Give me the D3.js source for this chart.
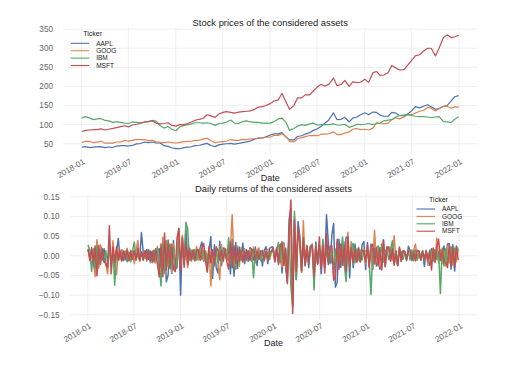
<!DOCTYPE html>
<html>
<head>
<meta charset="utf-8">
<script src="https://cdn.jsdelivr.net/npm/d3@7"></script>
<style>
  body { margin: 0; background: #fff; }
  svg { font-family: 'Liberation Sans', Arial, sans-serif; }
</style>
</head>
<body>
<div id="chart"></div>
<script>
(function() {

  const tickers = ['AAPL', 'GOOG', 'IBM', 'MSFT'];
  const tickerColors = ['#4c72b0', '#dd8452', '#55a868', '#c44e52'];

  // prices, sampled on the 2nd and 16th of each month (2018-01 .. 2021-12) + last day
  const aaplPrice = [
    41, 42.5, 40, 41, 42, 42.5, 40, 41.5, 40, 44, 45, 45, 44, 45.5, 49.5, 50.5, 54.5, 53, 54.5, 52, 52, 45, 43, 39.5,
    37, 37, 40, 41, 42, 45, 46, 48.5, 51, 45.5, 42.5, 47, 49, 50, 51, 49, 51, 53, 55, 57, 62, 64.5, 65.5, 68,
    73, 76, 76, 79, 68, 60, 60, 69, 71, 75, 79, 85, 89, 95, 105, 113, 131, 113, 114, 119, 107, 117, 120, 126,
    131, 126, 133, 132, 125, 122, 122, 132, 130, 124, 123, 128, 136, 147, 144, 148, 152, 147, 140, 142, 148, 150, 162, 173, 176
  ];
  const googPrice = [
    53.5, 56.5, 56, 53, 54, 57, 51.5, 52, 51.5, 54.5, 55, 58.5, 57, 59, 61.5, 61, 61, 58, 59, 55, 53.5, 53, 54.5, 53,
    52, 53.5, 55.5, 56, 56.5, 59, 59, 62, 64.5, 58.5, 53, 54.5, 55.5, 56.5, 61, 59, 59, 61.5, 61, 62.5, 63, 65, 65, 67,
    67, 72, 72, 76, 69, 57, 55, 63, 66, 68.5, 71.5, 72, 71, 75, 75, 76, 81, 74, 74, 78, 81, 88, 90, 87,
    88, 86, 91, 105, 103, 102, 104, 113, 118, 115, 120, 126, 126, 130, 135, 137, 145, 143, 136, 142, 148, 148, 143, 147, 145
  ];
  const ibmPrice = [
    117, 121, 117, 113, 115, 116, 111, 110, 106, 108, 106, 104, 103, 107, 106, 105, 107, 108, 111, 109, 97, 91, 95, 88,
    84, 94, 98, 100, 102, 105, 105, 104, 105, 103, 98, 103, 104, 107, 112, 104, 103, 108, 110, 107, 106, 106, 104, 104,
    104, 108, 115, 117, 106, 85, 90, 96, 100, 98, 102, 104, 99, 100, 100, 100, 102, 99, 99, 101, 93, 96, 101, 100,
    101, 103, 100, 103, 104, 110, 112, 113, 120, 124, 125, 126, 124, 122, 121, 121, 120, 118, 120, 121, 108, 107, 106, 114, 121
  ];
  const msftPrice = [
    82, 85, 86, 87, 87, 89, 86, 88, 90, 92, 95, 97, 94, 99, 101, 103, 107, 108, 110, 104, 102, 103, 105, 98,
    96, 100, 100, 103, 107, 111, 114, 116, 126, 123, 119, 128, 132, 134, 132, 130, 133, 134, 135, 136, 140, 146, 147, 150,
    155, 162, 165, 182, 160, 140, 150, 170, 170, 178, 178, 188, 199, 205, 201, 206, 222, 202, 205, 216, 200, 212, 210, 211,
    219, 210, 236, 239, 229, 230, 236, 255, 248, 243, 244, 255, 268, 280, 283, 292, 300, 300, 280, 300, 328, 335, 328, 330, 334
  ];

  // daily returns, one reading per week from 2018-01-02
  const aaplReturn = [
    .017, -.005, .012, -.021, -.043, .035, -.025, .022, -.011, .018, -.023, -.024, .025, -.02, .012, -.028, .01, .044, -.008, .011, -.012, .009, -.015, .006, -.011, .008,
    .012, -.009, .007, -.01, .059, .009, -.006, .016, -.009, .012, -.017, .014, -.012, .011, .018, -.03, -.025, .035, -.066, -.048, .02, -.045, .039, -.035, -.03, .07,
    -.1, .043, -.021, .068, -.012, .02, -.008, .013, -.011, .016, -.01, .021, .035, -.014, .009, -.01, .012, .049, -.058, .028, -.03, -.044, .037, -.025, .02, .018,
    -.012, .026, -.046, .042, -.052, .034, -.032, .022, -.012, .032, -.02, .015, -.014, .021, .017, -.011, .022, -.025, .015, .012, -.026, .013, .023, -.02, .019, .022,
    .022, -.01, .021, -.016, .028, -.044, .033, -.03, -.065, .093, .12, -.129, .1, -.061, .087, .05, -.041, .028, -.021, .024, -.03, .025, .022, -.048, .035, -.02, .024,
    -.046, .016, -.028, .104, .035, -.02, .052, .082, -.08, -.067, .042, -.03, .038, -.025, .047, .048, -.056, .035, -.03, .03, -.016, .021, -.015, .028, .036, -.035,
    .034, -.024, .03, -.035, .02, -.026, .013, -.034, -.025, .041, -.028, .021, .022, -.011, .015, -.021, .012, -.025, .019, -.014, .011, .009, -.012, .024, .013, -.012,
    .011, .015, -.008, .009, -.01, .012, -.027, .014, -.012, -.024, .018, -.013, .015, .009, -.01, .012, -.018, .025, -.016, .03, .031, -.034, .028, -.039, .025, .012
  ];
  const googReturn = [
    .012, .008, -.006, .017, -.053, .041, -.032, .028, .014, -.009, -.022, -.046, .029, -.025, .038, -.019, -.048, .012, -.011, .016, .01, -.008, .019, -.013, .014, .009,
    -.02, .015, .039, -.014, .009, -.012, .01, -.013, .016, -.018, .011, -.015, -.018, .024, -.044, -.05, .047, -.046, .035, -.023, .028, -.042, .03, -.028, -.025, .063,
    -.029, .052, -.018, .02, -.03, .015, -.012, .011, -.014, .024, -.01, .018, .017, -.011, .013, -.009, .021, -.077, .012, -.024, .017, -.015, -.061, .028, -.015, .019,
    .014, -.012, .018, .104, -.016, -.035, .025, -.027, .021, -.016, .018, -.012, .011, .016, -.014, .022, -.018, .015, .02, -.012, .014, -.013, .011, .017, -.01, .012,
    .014, -.012, .018, -.016, .021, -.028, .03, -.024, -.047, .046, .09, -.111, .074, -.053, .06, .032, -.042, .089, -.025, .027, -.018, .023, .019, -.057, .028, -.021, .026,
    -.024, .014, -.033, .025, -.015, .019, .02, -.052, -.043, .035, -.027, .022, -.018, .035, -.031, .06, -.025, .034, -.018, .017, -.013, .021, -.016, .012, .018, -.02,
    .022, -.024, .026, -.03, .065, -.016, .021, -.025, -.031, .028, -.02, .017, .016, .022, -.011, .051, -.014, -.023, .017, -.012, .013, .011, -.009, .012, .014, -.012,
    .015, .03, -.012, .01, -.011, .013, -.01, .012, -.024, .015, -.02, .018, -.014, .045, -.019, .016, -.02, .012, -.026, .025, -.018, .022, -.024, .019, -.015, .014
  ];
  const ibmReturn = [
    .028, .012, -.04, .018, -.03, .025, -.021, .014, .011, -.016, .013, -.018, .017, -.012, .009, -.075, .013, -.011, .01, -.013, .008, .012, -.01, .009, -.015, .011,
    .035, -.01, .012, -.009, .008, -.011, .013, -.008, .01, -.012, .011, .014, -.01, .02, -.023, -.077, .03, -.041, .038, -.028, .03, -.035, .02, -.032, -.025, .033,
    -.02, .025, -.018, .085, .068, -.012, .014, -.01, .016, -.011, .009, .012, -.01, .013, .011, -.042, .018, -.014, .012, -.026, .015, -.017, .022, -.011, .013, .01,
    -.012, .046, -.015, -.031, .024, -.032, .021, -.016, .015, -.012, .01, -.011, .013, -.01, .012, -.056, .014, -.011, .01, -.012, .009, -.013, .011, .008, -.009, .01,
    .012, -.01, .015, .034, -.018, .036, -.024, .02, -.045, .055, -.08, -.128, .113, -.06, .069, .035, -.032, .039, -.026, .022, -.018, .025, .03, -.087, .026, -.02, .018,
    -.015, .042, -.02, .013, -.014, .016, -.018, -.022, .017, -.015, .014, -.012, .048, -.022, -.065, .025, -.03, .022, .031, -.018, .017, -.012, .014, -.011, .01, .012,
    .012, -.015, -.099, .018, -.014, .02, .025, -.012, .03, -.016, .014, .012, -.01, .013, .038, -.011, .012, -.013, .01, .011, -.009, .008, -.01, .012, -.011, .015,
    -.013, .009, -.01, .011, -.009, .012, -.012, .01, -.011, .013, .01, -.012, .014, -.01, .011, -.096, .02, -.026, .018, -.021, .015, .022, -.017, .019, .014, .02
  ];
  const msftReturn = [
    .017, -.012, .021, -.018, .025, -.051, .026, -.022, .018, -.014, -.02, -.029, .076, -.046, .022, -.017, .023, -.011, .014, -.013, .012, -.01, .015, -.012, .011, -.009,
    .013, -.011, .02, -.012, .01, -.009, .012, -.011, .015, -.013, .011, -.014, .018, -.022, -.054, .03, -.053, .058, -.036, .04, -.032, .029, -.034, -.04, .045, .068,
    -.037, .047, -.029, .034, -.022, .017, -.013, .015, -.011, .014, .016, -.012, .019, .031, -.013, -.04, .024, -.018, .016, -.021, .023, .013, -.011, .014, -.012, .017,
    -.016, -.034, .036, -.028, .024, -.02, .018, -.013, .012, -.015, .011, -.01, .013, -.012, .014, .015, -.011, .012, -.009, .01, .013, -.01, .011, -.012, .009, .012,
    .02, -.016, .018, -.022, .028, .033, -.024, .017, -.071, .066, .142, -.147, .091, -.04, .074, .036, -.038, .045, -.023, .025, -.019, .022, .026, -.053, .025, -.021, .048,
    -.033, .027, -.044, .056, -.022, .024, .026, -.062, -.054, .042, -.035, .03, -.024, .026, -.04, .048, -.028, .02, -.017, .016, -.014, .018, -.015, .012, .013, -.016,
    .026, -.03, .023, .029, -.021, .019, -.026, .021, -.036, .039, -.027, .023, .02, -.014, .018, -.024, .011, -.025, .022, -.014, .012, .011, -.009, .013, .012, -.01,
    .011, -.013, .014, .012, -.011, .01, -.009, .012, -.013, .011, -.036, .02, -.017, .021, .042, -.012, .014, -.013, -.018, -.03, .028, -.024, .019, -.029, .022, -.011
  ];

  const priceTicks = [50, 100, 150, 200, 250, 300, 350];
  const returnTicks = [-0.15, -0.10, -0.05, 0, 0.05, 0.10, 0.15];
  const priceTitle = 'Stock prices of the considered assets';
  const returnTitle = 'Daily returns of the considered assets';

  const firstDay = new Date(Date.UTC(2018, 0, 2));
  const lastDay = new Date(Date.UTC(2021, 11, 31));
  const priceDates = d3.utcMonth.range(new Date(Date.UTC(2018, 0, 1)), new Date(Date.UTC(2022, 0, 1)))
    .flatMap(m => [d3.utcDay.offset(m, 1), d3.utcDay.offset(m, 15)]);
  priceDates.push(lastDay);
  const returnDates = d3.utcDay.range(firstDay, new Date(Date.UTC(2021, 11, 29)), 7);

  const prices = [aaplPrice, googPrice, ibmPrice, msftPrice];
  const returns = [aaplReturn, googReturn, ibmReturn, msftReturn];

  const svgSize = { x: 515, y: 367 };
  const topPanel = { left: 63, right: 477.5, top: 28, bottom: 155.2 };
  const botPanel = { left: 69.5, right: 477.5, top: 194, bottom: 319.5 };

  const span = lastDay - firstDay;
  const xDomain = [new Date(+firstDay - span * 0.05), new Date(+lastDay + span * 0.05)];

  const svg = d3.select('#chart')
    .append('svg')
    .attr('width', svgSize.x)
    .attr('height', svgSize.y);

  function drawPanel(panel, yDomain, yTicks, yFormat, title, dates, series, lineWidth, legendPos) {
    const xScale = d3.scaleUtc().domain(xDomain).range([panel.left, panel.right]);
    const yScale = d3.scaleLinear().domain(yDomain).range([panel.bottom, panel.top]);
    const xTicks = d3.utcMonth.every(6).range(new Date(Date.UTC(2018, 0, 1)), new Date(Date.UTC(2022, 0, 2)));
    const g = svg.append('g');

    // grid
    g.append('g').selectAll('line').data(yTicks).enter()
      .append('line')
        .attr('x1', panel.left).attr('x2', panel.right)
        .attr('y1', d => yScale(d)).attr('y2', d => yScale(d))
        .attr('stroke', '#ebebeb').attr('stroke-width', 0.8);
    g.append('g').selectAll('line').data(xTicks).enter()
      .append('line')
        .attr('x1', d => xScale(d)).attr('x2', d => xScale(d))
        .attr('y1', panel.top).attr('y2', panel.bottom)
        .attr('stroke', '#ebebeb').attr('stroke-width', 0.8);

    // y tick labels
    g.append('g').selectAll('text').data(yTicks).enter()
      .append('text')
        .attr('x', panel.left - 10)
        .attr('y', d => yScale(d))
        .attr('dy', '0.35em')
        .attr('text-anchor', 'end')
        .attr('font-size', 8.2)
        .attr('fill', '#666')
        .text(yFormat);

    // x tick labels, rotated
    g.append('g').selectAll('text').data(xTicks).enter()
      .append('text')
        .attr('transform', d => `translate(${xScale(d) + 1}, ${panel.bottom + 3}) rotate(-30)`)
        .attr('dy', '0.7em')
        .attr('text-anchor', 'end')
        .attr('font-size', 8.2)
        .attr('fill', '#666')
        .text(d3.utcFormat('%Y-%m'));

    const cx = (panel.left + panel.right) / 2;
    g.append('text')
      .attr('x', cx).attr('y', panel.top - 2)
      .attr('text-anchor', 'middle')
      .attr('font-size', 9.4)
      .attr('fill', '#222')
      .text(title);
    g.append('text')
      .attr('x', cx).attr('y', panel.bottom + 26)
      .attr('text-anchor', 'middle')
      .attr('font-size', 9)
      .attr('fill', '#222')
      .text('Date');

    const valueLine = d3.line()
      .x((d, i) => xScale(dates[i]))
      .y(d => yScale(d));
    series.forEach((s, i) => {
      g.append('path')
        .datum(s)
        .attr('d', valueLine)
        .attr('fill', 'none')
        .attr('stroke', tickerColors[i])
        .attr('stroke-width', lineWidth)
        .attr('stroke-linejoin', 'round');
    });

    // legend
    const legend = g.append('g')
      .attr('transform', `translate(${legendPos.x}, ${legendPos.y})`);
    legend.append('text')
      .attr('x', 22).attr('y', -3.5)
      .attr('text-anchor', 'middle')
      .attr('font-size', 7)
      .attr('fill', '#222')
      .text('Ticker');
    tickers.forEach((t, i) => {
      legend.append('line')
        .attr('x1', 0).attr('x2', 18.5)
        .attr('y1', 4 + i * 7.4).attr('y2', 4 + i * 7.4)
        .attr('stroke', tickerColors[i])
        .attr('stroke-width', 1.1);
      legend.append('text')
        .attr('x', 25.5).attr('y', 4 + i * 7.4)
        .attr('dy', '0.35em')
        .attr('font-size', 6.5)
        .attr('fill', '#222')
        .text(t);
    });
  }

  drawPanel(topPanel, [20, 353], priceTicks, d3.format('d'), priceTitle, priceDates, prices, 1.2, { x: 70.7, y: 39.3 });
  drawPanel(botPanel, [-0.162, 0.157], returnTicks, d3.format('.2f'), returnTitle, returnDates, returns, 1.5, { x: 416.5, y: 205 });

}());
</script>
</body>
</html>
